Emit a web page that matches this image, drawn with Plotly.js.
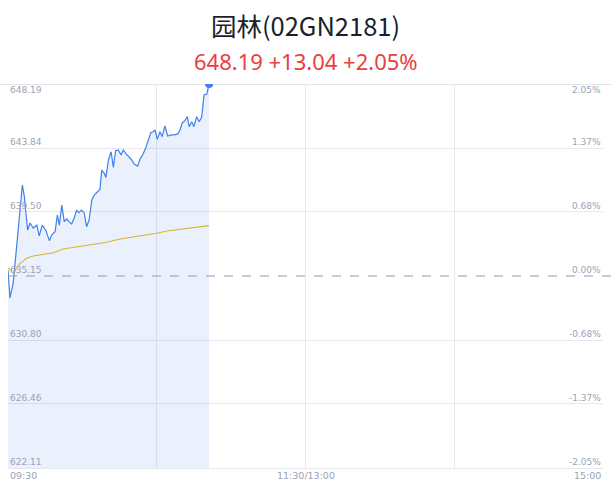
<!DOCTYPE html>
<html>
<head>
<meta charset="utf-8">
<script src="https://cdn.plot.ly/plotly-3.0.1.min.js"></script>
<style>
  html, body { margin: 0; padding: 0; background: #fff; }
  #grafica { width: 611px; height: 492px; }
</style>
</head>
<body>
<div id="grafica"></div>
<script>
const titulo = '园林(02GN2181)';
const subtitulo = '648.19 +13.04 +2.05%';

// minutos desde 09:30 (0..240) y precio
const minutosPrecio = [
  0, 0.8, 2.1, 3.9, 5.8, 6.6, 7.9, 8.9, 10.2, 11.6,
  12.6, 13.8, 15.2, 16.7, 17.6, 19.0, 19.9, 20.7, 21.7, 22.7,
  23.7, 24.6, 25.7, 26.7, 27.7, 28.6, 29.7, 30.7, 31.7, 32.7,
  33.8, 34.8, 36.2, 37.1, 37.8, 38.8, 39.5, 40.5, 41.6, 42.5,
  43.4, 44.5, 45.6, 46.5, 47.5, 48.5, 49.9, 50.9, 52.3, 53.2,
  54.3, 55.5, 56.6, 57.6, 58.6, 59.3, 60.2, 61.3, 62.2, 63.3,
  64.4, 65.8, 67.1, 68.5, 69.4, 70.3, 71.4, 72.3, 73.1, 74.1,
  75.0, 76.1, 77.1, 78.1, 79.1, 80.2, 81.1
];
const precios = [
  635.56, 633.66, 634.67, 637.82, 641.33, 640.54, 638.27, 638.75, 638.41, 638.61,
  637.87, 638.61, 638.27, 637.55, 637.93, 638.16, 639.29, 638.61, 639.97, 638.84,
  639.02, 638.84, 638.68, 639.09, 639.63, 639.45, 639.63, 639.45, 638.50, 638.95,
  640.31, 640.65, 640.88, 641.04, 642.35, 642.12, 641.84, 643.03, 643.59, 642.53,
  643.66, 643.71, 643.37, 643.71, 643.48, 643.30, 643.03, 642.76, 642.62, 643.08,
  643.37, 643.82, 644.39, 644.88, 644.95, 645.07, 644.43, 644.95, 644.61, 645.34,
  644.66, 644.73, 644.73, 644.80, 645.07, 645.56, 645.70, 645.97, 645.29, 645.63,
  645.29, 645.97, 645.63, 645.93, 647.44, 647.51, 648.19
];

const minutosMedia = [0, 2.1, 4.9, 7.5, 10.2, 14.2, 18.3, 22.3, 27.7, 34.4, 39.8, 45.2, 50.5, 55.9, 60.0, 64.0, 69.4, 74.8, 81.1];
const medias = [635.71, 635.35, 636.01, 636.35, 636.51, 636.64, 636.73, 636.98, 637.12, 637.25, 637.44, 637.66, 637.80, 637.93, 638.05, 638.21, 638.32, 638.43, 638.57];

const precioBase = 635.15;
const nivelesPrecio = [648.19, 643.84, 639.50, 635.15, 630.80, 626.46, 622.11];
const etiquetasPrecio = ['648.19', '643.84', '639.50', '635.15', '630.80', '626.46', '622.11'];
const etiquetasPct = ['2.05%', '1.37%', '0.68%', '0.00%', '-0.68%', '-1.37%', '-2.05%'];
const minutosRejilla = [0, 60, 120, 180, 240];
const posicionesHora = [0, 120, 240];
const etiquetasHora = ['09:30', '11:30/13:00', '15:00'];

const AZUL = '#3f80ee';
const GRIS_TEXTO = '#9aa2b3';
const GRIS_REJILLA = '#e6e8ee';
const fuenteEje = { family: 'DejaVu Sans, sans-serif', size: 9, color: GRIS_TEXTO };

const ultimo = precios.length - 1;

const trazaPrecio = {
  x: minutosPrecio,
  y: precios,
  type: 'scatter',
  mode: 'lines',
  fill: 'tozeroy',
  fillcolor: 'rgba(63,128,238,0.11)',
  line: { color: AZUL, width: 1.2 },
  hoverinfo: 'skip'
};

const trazaMedia = {
  x: minutosMedia,
  y: medias,
  type: 'scatter',
  mode: 'lines',
  line: { color: '#d7b62e', width: 1.1 },
  hoverinfo: 'skip'
};

const trazaUltimo = {
  x: [minutosPrecio[ultimo]],
  y: [precios[ultimo]],
  type: 'scatter',
  mode: 'markers',
  marker: { color: AZUL, size: 8 },
  hoverinfo: 'skip'
};

const anotaciones = [];

nivelesPrecio.forEach((nivel, i) => {
  const arriba = i === 0;
  anotaciones.push({
    xref: 'paper', yref: 'y', x: 0, y: nivel,
    xanchor: 'left', yanchor: arriba ? 'top' : 'bottom',
    yshift: arriba ? 1 : -1,
    text: etiquetasPrecio[i], showarrow: false, font: fuenteEje
  });
  anotaciones.push({
    xref: 'paper', yref: 'y', x: 1, y: nivel,
    xanchor: 'right', yanchor: arriba ? 'top' : 'bottom',
    yshift: arriba ? 1 : -1,
    text: etiquetasPct[i], showarrow: false, font: fuenteEje
  });
});

posicionesHora.forEach((m, i) => {
  anotaciones.push({
    xref: 'x', yref: 'paper', x: m, y: 0,
    xanchor: i === 0 ? 'left' : (i === posicionesHora.length - 1 ? 'right' : 'center'),
    yanchor: 'top',
    text: etiquetasHora[i], showarrow: false,
    font: { family: 'DejaVu Sans, sans-serif', size: 9.5, color: GRIS_TEXTO }
  });
});

anotaciones.push({
  xref: 'paper', yref: 'paper', x: 0.5, y: (468 - 61) / 384,
  xanchor: 'center', yanchor: 'middle',
  text: subtitulo, showarrow: false,
  font: { family: 'Noto Sans, sans-serif', size: 22, color: '#e8403f' }
});

const layout = {
  width: 611,
  height: 492,
  margin: { l: 8, r: 8, t: 84, b: 24 },
  paper_bgcolor: '#ffffff',
  plot_bgcolor: '#ffffff',
  showlegend: false,
  title: {
    text: titulo,
    x: 0.5,
    xanchor: 'center',
    y: 1 - 27 / 492,
    yanchor: 'middle',
    font: { family: 'Noto Sans CJK SC, Noto Sans, sans-serif', size: 25.5, color: '#1b1f2b' }
  },
  xaxis: {
    range: [0, 240],
    tickvals: minutosRejilla,
    showticklabels: false,
    showgrid: true,
    gridcolor: GRIS_REJILLA,
    gridwidth: 1,
    zeroline: false,
    showline: true,
    linecolor: GRIS_REJILLA,
    linewidth: 1,
    fixedrange: true
  },
  yaxis: {
    range: [nivelesPrecio[nivelesPrecio.length - 1], nivelesPrecio[0]],
    tickvals: nivelesPrecio.filter(v => v !== precioBase),
    showticklabels: false,
    showgrid: true,
    gridcolor: GRIS_REJILLA,
    gridwidth: 1,
    zeroline: false,
    showline: false,
    fixedrange: true
  },
  shapes: [
    {
      type: 'line', xref: 'paper', yref: 'y',
      x0: -8 / 595, x1: 1 + 8 / 595, y0: nivelesPrecio[0], y1: nivelesPrecio[0],
      line: { color: '#e3e5ea', width: 2 }, layer: 'below'
    },
    {
      type: 'line', xref: 'paper', yref: 'y',
      x0: 0, x1: 1 + 8 / 595, y0: precioBase, y1: precioBase,
      line: { color: '#8f99b3', width: 1, dash: 'dash' }, layer: 'above'
    }
  ],
  annotations: anotaciones
};

Plotly.newPlot('grafica', [trazaPrecio, trazaMedia, trazaUltimo], layout, {
  displayModeBar: false,
  staticPlot: true
});
</script>
</body>
</html>
